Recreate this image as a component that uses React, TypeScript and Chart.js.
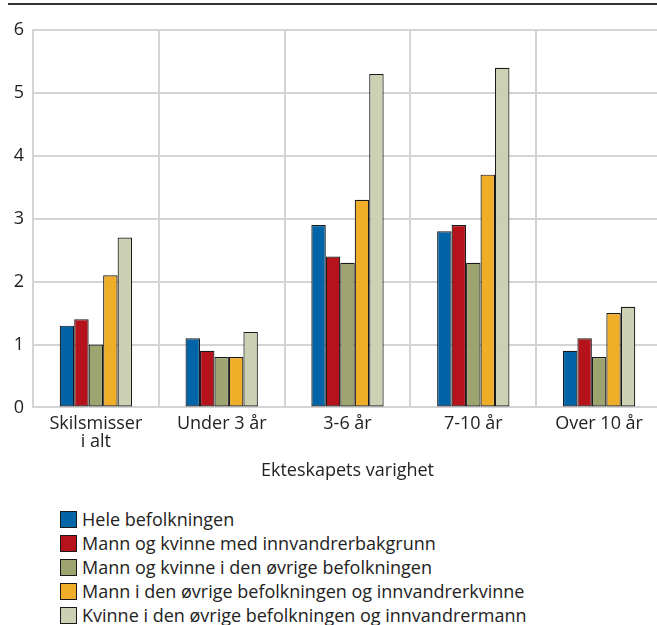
import React, { useEffect, useRef } from "react";
import { Chart, registerables } from "chart.js";

Chart.register(...registerables);

const categories: (string | string[])[] = [["Skilsmisser", "i alt"], "Under 3 år", "3-6 år", "7-10 år", "Over 10 år"];
const seriesLabels = [
  "Hele befolkningen",
  "Mann og kvinne med innvandrerbakgrunn",
  "Mann og kvinne i den øvrige befolkningen",
  "Mann i den øvrige befolkningen og innvandrerkvinne",
  "Kvinne i den øvrige befolkningen og innvandrermann",
];
const hele = [1.3, 1.1, 2.9, 2.8, 0.9];
const innvandrer = [1.4, 0.9, 2.4, 2.9, 1.1];
const ovrige = [1.0, 0.8, 2.3, 2.3, 0.8];
const mannOvrige = [2.1, 0.8, 3.3, 3.7, 1.5];
const kvinneOvrige = [2.7, 1.2, 5.3, 5.4, 1.6];
const colors = ["#0064a7", "#b5121b", "#9da46f", "#f0ae28", "#cdd1b4"];
const yTicks = [0, 1, 2, 3, 4, 5, 6];
const axisTitle = "Ekteskapets varighet";

const FONT = "'Open Sans', 'Noto Sans', sans-serif";

export default function App() {
  const ref = useRef<HTMLCanvasElement | null>(null);
  useEffect(() => {
    if (!ref.current) return;
    const values = [hele, innvandrer, ovrige, mannOvrige, kvinneOvrige];
    const chart = new Chart(ref.current, {
      type: "bar",
      data: {
        labels: categories,
        datasets: values.map((v, i) => ({
          label: seriesLabels[i],
          data: v,
          backgroundColor: colors[i],
          borderColor: "#1a1a1a",
          borderWidth: 1.2,
          borderSkipped: false,
          categoryPercentage: 0.575,
          barPercentage: 1,
        })),
      },
      options: {
        animation: false,
        responsive: false,
        maintainAspectRatio: false,
        layout: { padding: { top: 30, left: 0, right: 0, bottom: 3 } },
        plugins: { legend: { display: false }, tooltip: { enabled: false } },
        scales: {
          x: {
            grid: { color: "#d4d4d4", lineWidth: 2, drawTicks: false, offset: true },
            border: { display: true, color: "#d4d4d4", width: 2 },
            ticks: { color: "#222", font: { family: FONT, size: 18, lineHeight: 1.0 }, padding: 7, maxRotation: 0, autoSkip: false },
            title: { display: true, text: axisTitle, color: "#222", font: { family: FONT, size: 18 }, padding: { top: 3, bottom: 0 } },
          },
          y: {
            min: 0,
            max: 6,
            afterBuildTicks: (axis: any) => {
              axis.ticks = yTicks.map((v) => ({ value: v }));
            },
            afterFit: (axis: any) => {
              axis.width = 33;
            },
            grid: { color: "#d4d4d4", lineWidth: 2, drawTicks: false },
            border: { display: true, color: "#d4d4d4", width: 2 },
            ticks: { color: "#222", font: { family: FONT, size: 18 }, padding: 9 },
          },
        },
      },
    });
    return () => chart.destroy();
  }, []);

  return (
    <div style={{ position: "absolute", left: 0, top: 0, width: 657, height: 625, overflow: "hidden", background: "#fff", fontFamily: FONT }}>
      <div style={{ position: "absolute", left: 8, right: 0, top: 3, height: 2, background: "#333" }} />
      <div style={{ position: "absolute", left: 0, top: 0, width: 662, height: 485 }}>
        <canvas ref={ref} width={662} height={485} />
      </div>
      <div style={{ position: "absolute", left: 60, top: 507 }}>
        {seriesLabels.map((l, i) => (
          <div key={l} style={{ display: "flex", alignItems: "center", height: 24, fontSize: 18, color: "#222", whiteSpace: "nowrap" }}>
            <span style={{ display: "inline-block", width: 15, height: 15, background: colors[i], border: "1px solid #1a1a1a", marginRight: 5, flexShrink: 0 }} />
            {l}
          </div>
        ))}
      </div>
    </div>
  );
}
